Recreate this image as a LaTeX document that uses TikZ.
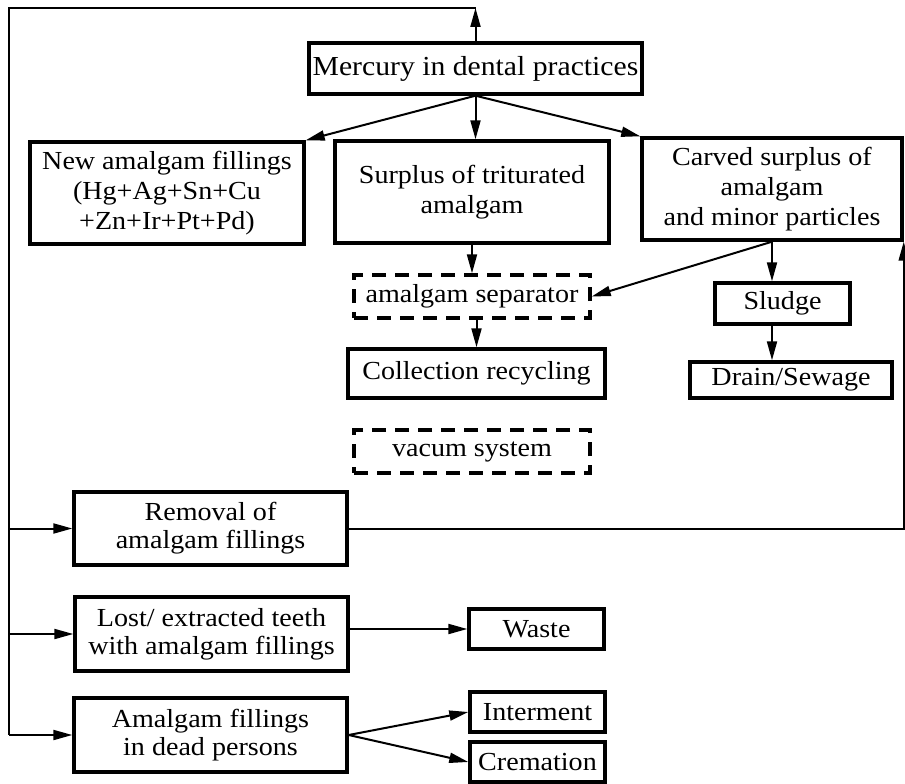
\documentclass[tikz,border=0pt]{standalone}
\usepackage{fontspec}
\setmainfont{Liberation Serif}[FakeStretch=1.08]
\usetikzlibrary{arrows.meta, calc}

\begin{document}
\begin{tikzpicture}[x=1pt, y=-1pt,
  flowbox/.style = {draw, line width=3.4pt, inner sep=0pt, align=center, font=\fontsize{26}{28}\selectfont},
  dashbox/.style = {flowbox, dash pattern=on 14pt off 9pt},
  toptext/.style = {font=\fontsize{26}{30}\selectfont},
  arrow/.style = {-{Triangle[length=19pt, width=10pt]}, line width=2pt},
  link/.style = {line width=2pt}
]
\useasboundingbox (0,0) rectangle (905,784);
\node[flowbox, font=\fontsize{27.5}{30}\selectfont, minimum width=333pt, minimum height=51pt] (merc) at (475.5,68.5) {Mercury in dental practices};
\node[flowbox, toptext, minimum width=274pt, minimum height=102pt] (newam) at (167,193) {New amalgam fillings\\(Hg+Ag+Sn+Cu\\+Zn+Ir+Pt+Pd)};
\node[flowbox, toptext, minimum width=274pt, minimum height=102pt] (surplus) at (472,192) {Surplus of triturated\\amalgam};
\node[flowbox, toptext, minimum width=260pt, minimum height=102pt] (carved) at (772,189) {Carved surplus of\\amalgam\\and minor particles};
\node[dashbox, minimum width=236pt, minimum height=43pt] (sep) at (472,296.5) {amalgam separator};
\node[flowbox, minimum width=135pt, minimum height=41pt] (sludge) at (782.5,303.5) {Sludge};
\node[flowbox, minimum width=202pt, minimum height=36pt] (drain) at (791,380) {Drain/Sewage};
\node[flowbox, minimum width=257pt, minimum height=49pt] (coll) at (476.5,373.5) {Collection recycling};
\node[dashbox, minimum width=236pt, minimum height=43pt] (vacuum) at (472,451.5) {vacum system};
\node[flowbox, minimum width=273pt, minimum height=73pt] (removal) at (210.5,528.5) {Removal of\\amalgam fillings};
\node[flowbox, minimum width=273pt, minimum height=74pt] (lost) at (211.5,634) {Lost/ extracted teeth\\with amalgam fillings};
\node[flowbox, minimum width=273pt, minimum height=74pt] (dead) at (210.5,735) {Amalgam fillings\\in dead persons};
\node[flowbox, minimum width=135pt, minimum height=40pt] (waste) at (536.5,629) {Waste};
\node[flowbox, minimum width=135pt, minimum height=40pt] (interment) at (537.5,712) {Interment};
\node[flowbox, minimum width=135pt, minimum height=40pt] (cremation) at (537.5,762) {Cremation};
\coordinate (cleft) at (9,8);
\draw[arrow] (merc.north) -- (merc.north |- cleft);
\draw[link] (merc.north |- cleft) -- (cleft) -- (cleft |- dead.west);
\draw[arrow] (cleft |- removal.west) -- (removal.west);
\draw[arrow] (cleft |- lost.west) -- (lost.west);
\draw[arrow] (cleft |- dead.west) -- (dead.west);
\draw[arrow] (merc.south) -- (newam.north east);
\draw[arrow] (merc.south) -- (merc.south |- surplus.north);
\draw[arrow] (merc.south) -- (carved.north west);
\draw[arrow] (sep.north |- surplus.south) -- (sep.north);
\draw[arrow] (carved.south) -- (sep.east);
\draw[arrow] (carved.south) -- (carved.south |- sludge.north);
\draw[arrow] (carved.south |- sludge.south) -- (carved.south |- drain.north);
\draw[arrow] (coll.north |- sep.south) -- (coll.north);
\draw[arrow] (removal.east) -| (carved.south east);
\draw[arrow] (lost.east |- waste.west) -- (waste.west);
\draw[arrow] (dead.east) -- (interment.west);
\draw[arrow] (dead.east) -- (cremation.west);
\end{tikzpicture}
\end{document}
